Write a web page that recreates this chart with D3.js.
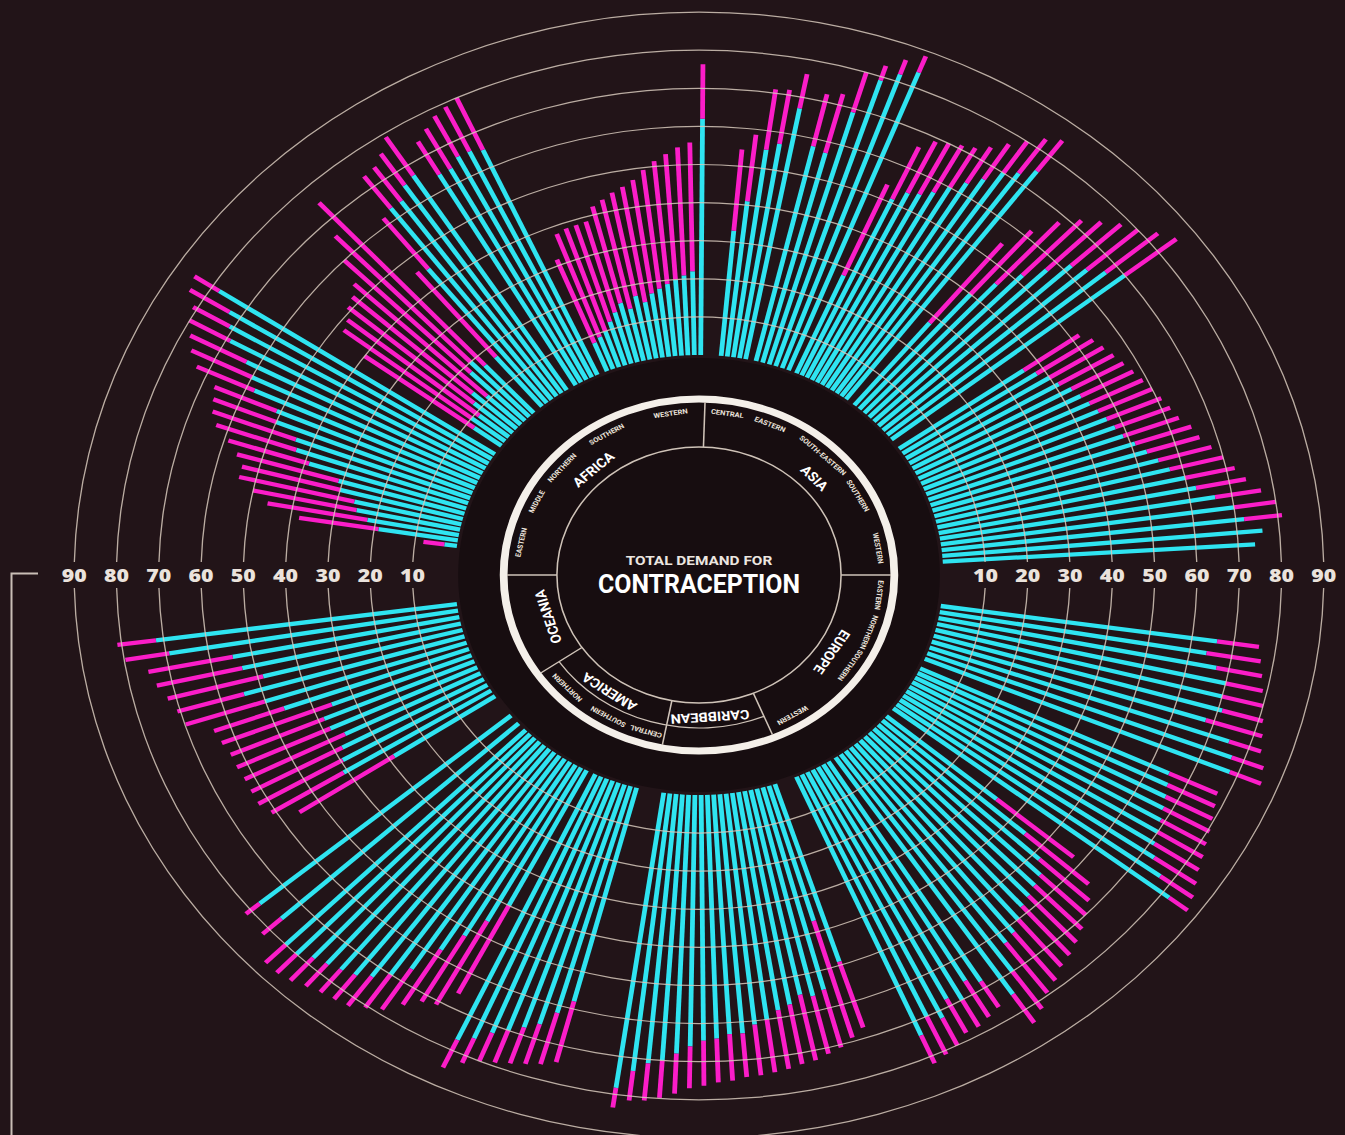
<!DOCTYPE html>
<html><head><meta charset="utf-8">
<script src="https://cdn.jsdelivr.net/npm/d3@7"></script>
<style>html,body{margin:0;padding:0;background:#221418;}svg{display:block}</style>
</head><body><svg id="chart" width="1345" height="1135"></svg>
<script>
// ================= DATA (percent of women) =================
const continents = ["AFRICA","ASIA","EUROPE","CARIBBEAN","AMERICA","OCEANIA"];
const subregions = ["EASTERN","MIDDLE","NORTHERN","SOUTHERN","WESTERN",
  "CENTRAL","EASTERN","SOUTH-EASTERN","SOUTHERN","WESTERN",
  "EASTERN","NORTHERN","SOUTHERN","WESTERN",
  "CARIBBEAN","CENTRAL","SOUTHERN","NORTHERN","OCEANIA"];
const tickValues = [10,20,30,40,50,60,70,80,90];

// total demand (bar length) and demand satisfied (cyan part)
const africaEasternTotal = [8,38,46,50,54,54,56,59,63,65,66,67,73,76,78,80,81,84,85];
const africaEasternMet   = [3,19,22,25,26,30,31,39,43,44,50,51,58,60,63,69,71,73,78];
const africaMiddleTotal  = [40,48,49,51,52,54,60,66,75];
const africaMiddleMet    = [8,10,9,12,14,11,18,20,17];
const africaNorthernTotal= [46,62,73.5,74,76,79];
const africaNorthernMet  = [17,45,63,63,66,67];
const africaSouthernTotal= [74,76,78,79,80];
const africaSouthernMet  = [64,64,66,66,65];
const africaWesternTotal = [31.6,37.9,38.5,38.6,38.8,42.2,43.4,44.7,45.7,47.1,49.4,51.4,53,54.6,55.8,76.3];
const africaWesternMet   = [8,9,10,12,14,16,14,17,15,17,18,19,20,21,22,62];
const asiaCentralTotal   = [54.4,58.6,71,71.4,76.2];
const asiaCentralMet     = [33,41,55,57,67];
const asiaEasternTotal   = [72,73,80,83,86,88.6];
const asiaEasternMet     = [58,57,69,79,82,84];
const asiaSouthEasternTotal = [54,66,69,70,71,72,74,77,80,83,85];
const asiaSouthEasternMet   = [28,51,54,55,57,60,63,66,70,72,75];
const asiaSouthernTotal  = [55,62,68,72,75,78,80,83,85.5];
const asiaSouthernMet    = [28,40,46,52,57,62,64,67,70];
const asiaWesternTotal   = [52,54,55,56,57,58,59,60,61,62,63,65,66,68,70,72,74,77,80,81,76,74];
const asiaWesternMet     = [36,38,40,41,43,44,45,46,47,48,49,51,53,55,57,60,62,66,70,72,76,74];
const europeEasternTotal = [76,77,78,79,80,81,82,83,85,86];
const europeEasternMet   = [66,64,67,70,70,71,68,75,77,78];
const europeNorthernTotal= [77.6,78.5,79.5,80.5,81.4,82.5,83.5,85,86.5,87.5];
const europeNorthernMet  = [65,66,67,68,69,70,71,73,77,82];
const europeSouthernTotal= [57.7,65,68,70,72,73.6,75,76,78,79.4,82,84];
const europeSouthernMet  = [34,45,52,55,56,57,58,60,62,63,70,75];
const europeWesternTotal = [76,77,78,78,80,81,82];
const europeWesternMet   = [68,66,70,68,72,70,74];
const caribbeanTotal = [67.2,69,70.7,71.6,72.6,72.9,73.6,74,74.4,74.5,75.2,75.5,76.3,77,78.5,79.8,80.8,81.2,83.5];
const caribbeanMet   = [49,37,55,56,55,57,58,60,61,63,63,64,64.5,66,68,70,71,73.4,78.3];
const americaCentralTotal  = [74.5,76,77,78,79,80,82,85];
const americaCentralMet    = [58,62,66,68,70,72,75,77];
const americaSouthernTotal = [66,71,72,75,78.7,80.5,82.5,83.1,83.7,84.7,86,86.7,86.7];
const americaSouthernMet   = [40,46,52,58,66,70,73,75,76,77,78,80,80];
const americaNorthernTotal = [82,81.5];
const americaNorthernMet   = [76,77.3];
const oceaniaTotal = [55.4,61,62.5,62.4,62.3,62.6,62.6,63.4,64,69.8,70.7,72,73.7,74.9,79.7,81];
const oceaniaMet   = [28.6,41,39.5,38,35.8,38.3,38.6,35.5,46.4,50.2,54.3,48.7,53,54.6,69.2,71.8];

const totals = [africaEasternTotal,africaMiddleTotal,africaNorthernTotal,africaSouthernTotal,africaWesternTotal,
  asiaCentralTotal,asiaEasternTotal,asiaSouthEasternTotal,asiaSouthernTotal,asiaWesternTotal,
  europeEasternTotal,europeNorthernTotal,europeSouthernTotal,europeWesternTotal,
  caribbeanTotal,americaCentralTotal,americaSouthernTotal,americaNorthernTotal,oceaniaTotal];
const mets = [africaEasternMet,africaMiddleMet,africaNorthernMet,africaSouthernMet,africaWesternMet,
  asiaCentralMet,asiaEasternMet,asiaSouthEasternMet,asiaSouthernMet,asiaWesternMet,
  europeEasternMet,europeNorthernMet,europeSouthernMet,europeWesternMet,
  caribbeanMet,americaCentralMet,americaSouthernMet,americaNorthernMet,oceaniaMet];

// ================= LAYOUT =================
const W = 1345, H = 1135, cx = 699, cy = 575, sx = 1.11;
const groupRanges = [[277.6,303.3],[306,317.4],[320,327.2],[329.7,335.4],[337.9,360.4],
  [365.2,371],[373.5,381.5],[383.5,397],[399.5,412],[415,446.5],
  [98.1,112.4],[115.1,127.3],[129.9,146],[148,156.5],
  [161.9,188.3],[194.8,205.1],[207.4,225.2],[227.6,230.3],[236.6,262.4]];
const continentBounds = [1.8, 90, 157.5, 191, 235.5, 270];
const continentLabelAngles = [318, 47, 122.7, 176, 214.7, 253];
const subLabelAngles = [281.5,296.7,311,329.4,351, 9,23,43,61,80.6, 97,110.5,123.5,149, null,197,210,226.5, null];

const COL_BG = "#221418", COL_MET = "#2fe4f1", COL_UNMET = "#fb1dc8", COL_GRID = "#d6c8bb";

const rScale = d3.scaleLinear().domain([0,100]).range([220,601]);
const toRad = d => d * Math.PI / 180;
const px = (a, rr) => rr * Math.sin(toRad(a));
const py = (a, rr) => -rr * Math.cos(toRad(a));

const svg = d3.select("#chart");
svg.append("rect").attr("width", W).attr("height", H).attr("fill", COL_BG);

const g = svg.append("g").attr("transform", `translate(${cx},${cy}) scale(${sx},1)`);
g.append("circle").attr("r", 217).attr("fill", "#170d10");

// bars
const bars = [];
totals.forEach((arr, gi) => {
  const ang = d3.scalePoint().domain(d3.range(arr.length)).range(groupRanges[gi]);
  arr.forEach((t, i) => bars.push({a: ang(i), total: t, met: Math.min(mets[gi][i], t)}));
});
const barG = g.append("g");
barG.selectAll("line.met").data(bars).join("line").attr("class","met")
  .attr("x1", d => px(d.a, rScale(0))).attr("y1", d => py(d.a, rScale(0)))
  .attr("x2", d => px(d.a, rScale(d.met))).attr("y2", d => py(d.a, rScale(d.met)))
  .attr("stroke", COL_MET).attr("stroke-width", 4.3);
barG.selectAll("line.unmet").data(bars.filter(d => d.total > d.met)).join("line").attr("class","unmet")
  .attr("x1", d => px(d.a, rScale(d.met))).attr("y1", d => py(d.a, rScale(d.met)))
  .attr("x2", d => px(d.a, rScale(d.total))).attr("y2", d => py(d.a, rScale(d.total)))
  .attr("stroke", COL_UNMET).attr("stroke-width", 4.3);

// grid rings (broken at the value labels)
const gridG = g.append("g");
tickValues.forEach(v => {
  const rr = rScale(v);
  const gap = (13 / rr) * 180 / Math.PI;
  [[90 + gap, 270 - gap], [270 + gap, 450 - gap]].forEach(([a0, a1]) => {
    gridG.append("path")
      .attr("d", d3.arc()({innerRadius: rr - 0.6, outerRadius: rr + 0.6, startAngle: toRad(a0), endAngle: toRad(a1)}))
      .attr("fill", COL_GRID).attr("opacity", 0.85);
  });
});

// label ring
g.append("circle").attr("r", 176).attr("fill", "none").attr("stroke", "#f4efe9").attr("stroke-width", 7);
g.append("circle").attr("r", 128).attr("fill", "none").attr("stroke", "#cfc3b8").attr("stroke-width", 1.4);
g.append("path").attr("d", d3.arc()({innerRadius: 152.4, outerRadius: 153.6, startAngle: toRad(157.5), endAngle: toRad(235.5)}))
  .attr("fill", "#cfc3b8");
continentBounds.forEach(a => {
  g.append("line").attr("x1", px(a,128)).attr("y1", py(a,128)).attr("x2", px(a,173)).attr("y2", py(a,173))
    .attr("stroke", "#cfc3b8").attr("stroke-width", 1.4);
});
continents.forEach((c, i) => {
  g.append("text").attr("transform", `rotate(${continentLabelAngles[i]}) translate(0,${-141})`)
    .attr("text-anchor", "middle").attr("dominant-baseline", "middle")
    .attr("font-family", "Roboto, sans-serif").attr("font-weight", 700).attr("font-size", 13)
    .attr("fill", "#ffffff").text(c);
});
subregions.forEach((s, i) => {
  if (subLabelAngles[i] === null) return;
  g.append("text").attr("transform", `rotate(${subLabelAngles[i]}) translate(0,${-163})`)
    .attr("text-anchor", "middle").attr("dominant-baseline", "middle")
    .attr("font-family", "Roboto, sans-serif").attr("font-weight", 700).attr("font-size", 6.8)
    .attr("fill", "#ece4dc").text(s);
});

// centre title
g.append("text").attr("x", 0).attr("y", -10).attr("text-anchor", "middle")
  .attr("font-family", "Roboto, sans-serif").attr("font-weight", 700).attr("font-size", 12.5)
  .attr("textLength", 132).attr("lengthAdjust", "spacingAndGlyphs")
  .attr("fill", "#ece6e0").text("TOTAL DEMAND FOR");
g.append("text").attr("x", 0).attr("y", 18).attr("text-anchor", "middle")
  .attr("font-family", "Roboto, sans-serif").attr("font-weight", 700).attr("font-size", 25)
  .attr("textLength", 182).attr("lengthAdjust", "spacingAndGlyphs")
  .attr("fill", "#ffffff").text("CONTRACEPTION");

// value labels on the horizontal axis (outside the stretched group)
const axG = svg.append("g");
[-1, 1].forEach(side => {
  tickValues.forEach(v => {
    axG.append("text").attr("x", cx + side * rScale(v) * sx).attr("y", cy + 6.5)
      .attr("text-anchor", "middle")
      .attr("font-family", "'Open Sans', sans-serif").attr("font-weight", 800).attr("font-size", 17)
      .attr("textLength", 25).attr("lengthAdjust", "spacingAndGlyphs")
      .attr("fill", "#ebe3dc").text(v);
  });
});
// bracket at left
svg.append("path").attr("d", "M38,573.5 H11.5 V1135").attr("fill", "none")
  .attr("stroke", "#c9beb6").attr("stroke-width", 2);
</script></body></html>
